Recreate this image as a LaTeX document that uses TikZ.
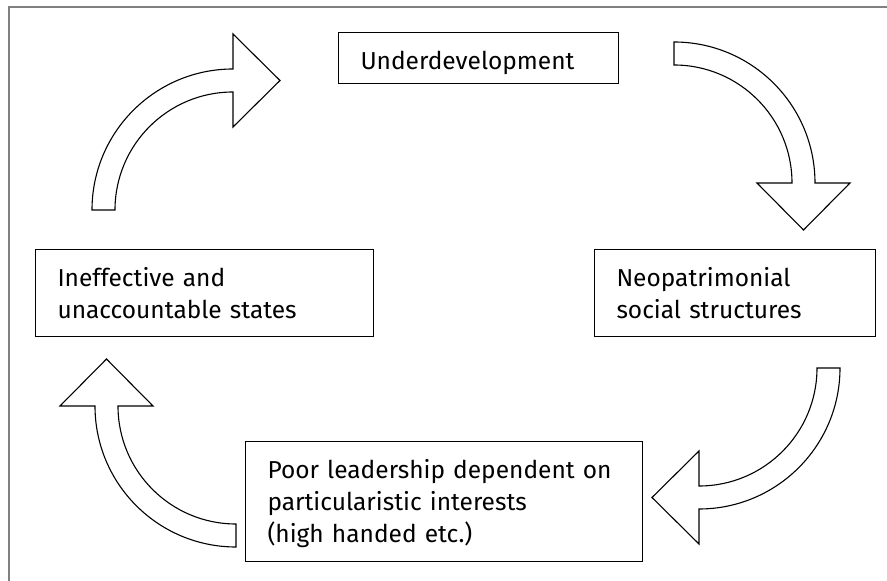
\documentclass[tikz,border=0pt]{standalone}
\usepackage{fontspec}
\setmainfont{Fira Sans}
\usetikzlibrary{calc}

% bent block arrow: centre, start angle (turns 90 degrees clockwise)
\newcommand\turnarrow[2]{%
  \draw[barrow] ($(#1)+(#2:141pt)$) arc[start angle=#2, end angle=#2-90, radius=141pt]
    -- ($(#1)+(#2-90:176pt)$) -- ($(#1)+(#2-90:129.5pt)+(#2-180:47pt)$)
    -- ($(#1)+(#2-90:83pt)$) -- ($(#1)+(#2-90:118pt)$)
    arc[start angle=#2-90, end angle=#2, radius=118pt] -- cycle;}

\begin{document}
\begin{tikzpicture}[x=1pt, y=1pt]
    \tikzset{block/.style= {draw, rectangle
    , line width=1pt
    , inner xsep=22pt, inner ysep=0pt
    , anchor=north west
    , align=left
    , font=\fontsize{24.5}{32}\selectfont
      }
    , barrow/.style={draw, fill=white, line width=1.1pt, line join=miter}
    }

\useasboundingbox (0,0) rectangle (887,581);
\draw[gray, line width=1.5pt] (9,0) -- (9,574) -- (887,574);

\node [block, text width=236pt, text height=37pt, text depth=14pt] (under) at (338,549) {Underdevelopment};
\node [block, text width=237pt, text height=37pt, text depth=50pt] (neo) at (594,332) {Neopatrimonial\\social structures};
\node [block, text width=353pt, text height=37pt, text depth=83pt] (poor) at (245,140) {Poor leadership dependent on\\particularistic interests\\(high handed etc.)};
\node [block, text width=294pt, text height=37pt, text depth=50pt] (ineff) at (35,332) {Ineffective and\\unaccountable states};

\coordinate (turn1) at (233,371);
\coordinate (turn2) at (674,398);
\coordinate (turn3) at (699,213);
\coordinate (turn4) at (236,175);

\turnarrow{turn1}{180}
\turnarrow{turn2}{90}
\turnarrow{turn3}{0}
\turnarrow{turn4}{-90}
\end{tikzpicture}
\end{document}
